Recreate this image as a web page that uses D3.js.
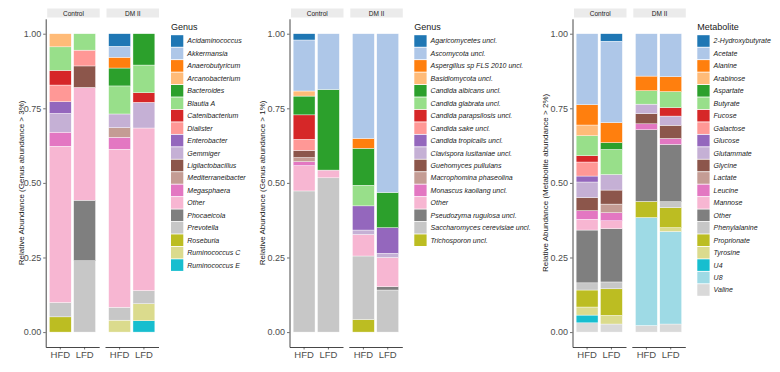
<!DOCTYPE html>
<html>
<head>
<meta charset="utf-8">
<script src="https://cdn.jsdelivr.net/npm/d3@7"></script>
<style>
  body { margin: 0; background: #fff; }
  text { font-family: "Liberation Sans", Arial, sans-serif; }
</style>
</head>
<body>
<div id="chart"></div>
<script>
var svgWidth = 780;
var svgHeight = 372;

// facets and diets
var groups = ["Control", "DM II"];
var diets = ["HFD", "LFD"];
var yTicks = [0, 0.25, 0.5, 0.75, 1];

var tab20 = ["#1f77b4", "#aec7e8", "#ff7f0e", "#ffbb78", "#2ca02c", "#98df8a",
  "#d62728", "#ff9896", "#9467bd", "#c5b0d5", "#8c564b", "#c49c94",
  "#e377c2", "#f7b6d2", "#7f7f7f", "#c7c7c7", "#bcbd22", "#dbdb8d",
  "#17becf", "#9edae5", "#d9d9d9"];

// ---- bacterial genus ----
var genusKeys = ["Acidaminococcus", "Akkermansia", "Anaerobutyricum", "Arcanobacterium",
  "Bacteroides", "Blautia A", "Catenibacterium", "Dialister", "Enterobacter", "Gemmiger",
  "Ligilactobacillus", "Mediterraneibacter", "Megasphaera", "Other", "Phocaeicola",
  "Prevotella", "Roseburia", "Ruminococcus C", "Ruminococcus E"];

var genusCtrlHFD = {"Roseburia": 0.051, "Prevotella": 0.048, "Other": 0.524, "Megasphaera": 0.047,
  "Gemmiger": 0.063, "Enterobacter": 0.039, "Dialister": 0.056, "Catenibacterium": 0.049,
  "Blautia A": 0.079, "Arcanobacterium": 0.044};
var genusCtrlLFD = {"Prevotella": 0.239, "Phocaeicola": 0.203, "Other": 0.378,
  "Ligilactobacillus": 0.072, "Dialister": 0.053, "Blautia A": 0.055};
var genusDmHFD = {"Ruminococcus C": 0.040, "Prevotella": 0.043, "Other": 0.530, "Megasphaera": 0.040,
  "Mediterraneibacter": 0.032, "Gemmiger": 0.046, "Blautia A": 0.094, "Bacteroides": 0.060,
  "Anaerobutyricum": 0.036, "Akkermansia": 0.037, "Acidaminococcus": 0.042};
var genusDmLFD = {"Ruminococcus E": 0.038, "Ruminococcus C": 0.057, "Prevotella": 0.044,
  "Other": 0.545, "Gemmiger": 0.086, "Catenibacterium": 0.032, "Blautia A": 0.093,
  "Bacteroides": 0.105};

// ---- fungal genus ----
var fungiKeys = ["Agaricomycetes uncl.", "Ascomycota uncl.", "Aspergillus sp FLS 2010 uncl.",
  "Basidiomycota uncl.", "Candida albicans uncl.", "Candida glabrata uncl.",
  "Candida parapsilosis uncl.", "Candida sake uncl.", "Candida tropicalis uncl.",
  "Clavispora lusitaniae uncl.", "Guehomyces pullulans", "Macrophomina phaseolina",
  "Monascus kaoliang uncl.", "Other", "Pseudozyma rugulosa uncl.",
  "Saccharomyces cerevisiae uncl.", "Trichosporon uncl."];

var fungiCtrlHFD = {"Saccharomyces cerevisiae uncl.": 0.473, "Other": 0.085,
  "Monascus kaoliang uncl.": 0.013, "Macrophomina phaseolina": 0.014,
  "Guehomyces pullulans": 0.024, "Candida sake uncl.": 0.037,
  "Candida parapsilosis uncl.": 0.082, "Candida albicans uncl.": 0.063,
  "Basidiomycota uncl.": 0.017, "Ascomycota uncl.": 0.171, "Agaricomycetes uncl.": 0.021};
var fungiCtrlLFD = {"Saccharomyces cerevisiae uncl.": 0.517, "Other": 0.026,
  "Candida albicans uncl.": 0.270, "Ascomycota uncl.": 0.187};
var fungiDmHFD = {"Trichosporon uncl.": 0.042, "Saccharomyces cerevisiae uncl.": 0.213,
  "Other": 0.072, "Clavispora lusitaniae uncl.": 0.015, "Candida tropicalis uncl.": 0.081,
  "Candida glabrata uncl.": 0.069, "Candida albicans uncl.": 0.124,
  "Aspergillus sp FLS 2010 uncl.": 0.033, "Ascomycota uncl.": 0.351};
var fungiDmLFD = {"Saccharomyces cerevisiae uncl.": 0.141, "Pseudozyma rugulosa uncl.": 0.011,
  "Other": 0.098, "Clavispora lusitaniae uncl.": 0.014, "Candida tropicalis uncl.": 0.086,
  "Candida albicans uncl.": 0.118, "Ascomycota uncl.": 0.532};

// ---- metabolites ----
var metabKeys = ["2-Hydroxybutyrate", "Acetate", "Alanine", "Arabinose", "Aspartate",
  "Butyrate", "Fucose", "Galactose", "Glucose", "Glutammate", "Glycine", "Lactate",
  "Leucine", "Mannose", "Other", "Phenylalanine", "Proprionate", "Tyrosine", "U4", "U8",
  "Valine"];

var metabCtrlHFD = {"Valine": 0.031, "U4": 0.026, "Tyrosine": 0.027, "Proprionate": 0.057,
  "Phenylalanine": 0.024, "Other": 0.177, "Mannose": 0.036, "Leucine": 0.029,
  "Glycine": 0.044, "Glutammate": 0.052, "Glucose": 0.020, "Galactose": 0.047,
  "Fucose": 0.021, "Butyrate": 0.067, "Arabinose": 0.036, "Alanine": 0.068, "Acetate": 0.238};
var metabCtrlLFD = {"Valine": 0.027, "Tyrosine": 0.029, "Proprionate": 0.089,
  "Phenylalanine": 0.023, "Other": 0.179, "Mannose": 0.026, "Leucine": 0.027,
  "Lactate": 0.029, "Glycine": 0.047, "Glutammate": 0.052, "Butyrate": 0.084,
  "Aspartate": 0.023, "Alanine": 0.067, "Acetate": 0.273, "2-Hydroxybutyrate": 0.025};
var metabDmHFD = {"Valine": 0.022, "U8": 0.362, "Proprionate": 0.054, "Other": 0.240,
  "Leucine": 0.020, "Glycine": 0.034, "Glutammate": 0.032, "Butyrate": 0.045,
  "Alanine": 0.049, "Acetate": 0.142};
var metabDmLFD = {"Valine": 0.027, "U8": 0.310, "Tyrosine": 0.013, "Proprionate": 0.067,
  "Phenylalanine": 0.020, "Other": 0.192, "Leucine": 0.020, "Glycine": 0.044,
  "Glutammate": 0.031, "Fucose": 0.028, "Butyrate": 0.054, "Alanine": 0.050, "Acetate": 0.144};

// panel layout
var panels = [
  {x0: 45.7, titleX: 21, legendX: 171, legendTitle: "Genus",
    yTitle: "Relative Abundance (Genus abundance > 3%)", keys: genusKeys,
    bars: [[genusCtrlHFD, genusCtrlLFD], [genusDmHFD, genusDmLFD]]},
  {x0: 289.5, titleX: 262, legendX: 414.3, legendTitle: "Genus",
    yTitle: "Relative Abundance (Genus abundance > 1%)", keys: fungiKeys,
    bars: [[fungiCtrlHFD, fungiCtrlLFD], [fungiDmHFD, fungiDmLFD]]},
  {x0: 572.5, titleX: 545, legendX: 697.3, legendTitle: "Metabolite",
    yTitle: "Relative Abundance (Metabolite abundance > 2%)", keys: metabKeys,
    bars: [[metabCtrlHFD, metabCtrlLFD], [metabDmHFD, metabDmLFD]]}
];

var facetWidth = 53.5;
var facetGap = 5.8;

var svg = d3.select("#chart").append("svg")
  .attr("width", svgWidth)
  .attr("height", svgHeight);

var yScale = d3.scaleLinear()
  .domain([-0.05, 1.05])
  .range([347, 18.8]);

panels.forEach(function(p) {
  var g = svg.append("g");
  var color = d3.scaleOrdinal().domain(p.keys).range(tab20);
  // ggplot stacks the first level on top
  var stackKeys = p.keys.slice().reverse();
  var stack = d3.stack().keys(stackKeys).value(function(d, k) { return d[k] || 0; });

  groups.forEach(function(grp, gi) {
    var fx = p.x0 + gi * (facetWidth + facetGap);
    var xScale = d3.scaleBand()
      .domain(diets)
      .range([fx, fx + facetWidth])
      .paddingInner(0.1)
      .paddingOuter(0.15);

    // strip
    g.append("rect")
      .attr("x", fx + 1.5)
      .attr("y", 8.5)
      .attr("width", facetWidth - 1)
      .attr("height", 9)
      .attr("fill", "#ebebeb");
    g.append("text")
      .attr("x", fx + 1 + facetWidth / 2)
      .attr("y", 15.5)
      .attr("text-anchor", "middle")
      .attr("font-size", "6.5px")
      .attr("fill", "#1a1a1a")
      .text(grp);

    var rows = diets.map(function(dt, di) {
      var row = Object.assign({}, p.bars[gi][di]);
      row.diet = dt;
      return row;
    });
    var series = stack(rows);

    g.selectAll(null)
      .data(series)
      .enter()
      .append("g")
      .attr("fill", function(s) { return color(s.key); })
      .selectAll("rect")
      .data(function(s) { return s.filter(function(d) { return d[1] - d[0] > 0; }); })
      .enter()
      .append("rect")
      .attr("x", function(d) { return xScale(d.data.diet); })
      .attr("width", xScale.bandwidth())
      .attr("y", function(d) { return yScale(d[1]); })
      .attr("height", function(d) { return yScale(d[0]) - yScale(d[1]); })
      .attr("stroke", "#ffffff")
      .attr("stroke-width", 0.4);

    // bottom axis for each facet
    var bottomAxis = d3.axisBottom(xScale).tickSize(2.5).tickSizeOuter(0).tickPadding(2);
    var xAxis = g.append("g")
      .attr("transform", "translate(0, 347)")
      .call(bottomAxis);
    xAxis.select(".domain").attr("stroke", "#333").attr("stroke-width", 0.9);
    xAxis.selectAll(".tick line").attr("stroke", "#333").attr("stroke-width", 0.7);
    xAxis.selectAll(".tick text")
      .attr("font-size", "9.5px")
      .attr("fill", "#4d4d4d")
      .attr("font-family", "Liberation Sans, Arial, sans-serif");
  });

  // y axis
  var leftAxis = d3.axisLeft(yScale)
    .tickValues(yTicks)
    .tickFormat(d3.format(".2f"))
    .tickSize(2.5)
    .tickSizeOuter(0)
    .tickPadding(2);
  var yAxis = g.append("g")
    .attr("transform", `translate(${p.x0}, 0)`)
    .call(leftAxis);
  yAxis.select(".domain").attr("stroke", "#333").attr("stroke-width", 0.9);
  yAxis.selectAll(".tick line").attr("stroke", "#333").attr("stroke-width", 0.7);
  yAxis.selectAll(".tick text")
    .attr("font-size", "9px")
    .attr("fill", "#4d4d4d")
    .attr("font-family", "Liberation Sans, Arial, sans-serif");

  g.append("text")
    .attr("transform", `translate(${p.titleX}, ${yScale(0.5)}) rotate(-90)`)
    .attr("text-anchor", "middle")
    .attr("dy", "0.35em")
    .attr("font-size", "8px")
    .attr("fill", "#1a1a1a")
    .text(p.yTitle);

  // legend
  var legend = g.append("g")
    .attr("transform", `translate(${p.legendX}, 0)`);
  legend.append("text")
    .attr("x", 0)
    .attr("y", 30)
    .attr("font-size", "9px")
    .attr("fill", "#1a1a1a")
    .text(p.legendTitle);
  var items = legend.selectAll(".item")
    .data(p.keys)
    .enter()
    .append("g")
    .attr("transform", function(d, i) { return `translate(0, ${35.2 + i * 12.45})`; });
  items.append("rect")
    .attr("width", 12.3)
    .attr("height", 11.6)
    .attr("fill", function(d) { return color(d); });
  items.append("text")
    .attr("x", 16.3)
    .attr("y", 5.8)
    .attr("dy", "0.35em")
    .attr("font-size", "7px")
    .attr("font-style", "italic")
    .attr("fill", "#1a1a1a")
    .text(function(d) { return d; });
});
</script>
</body>
</html>
